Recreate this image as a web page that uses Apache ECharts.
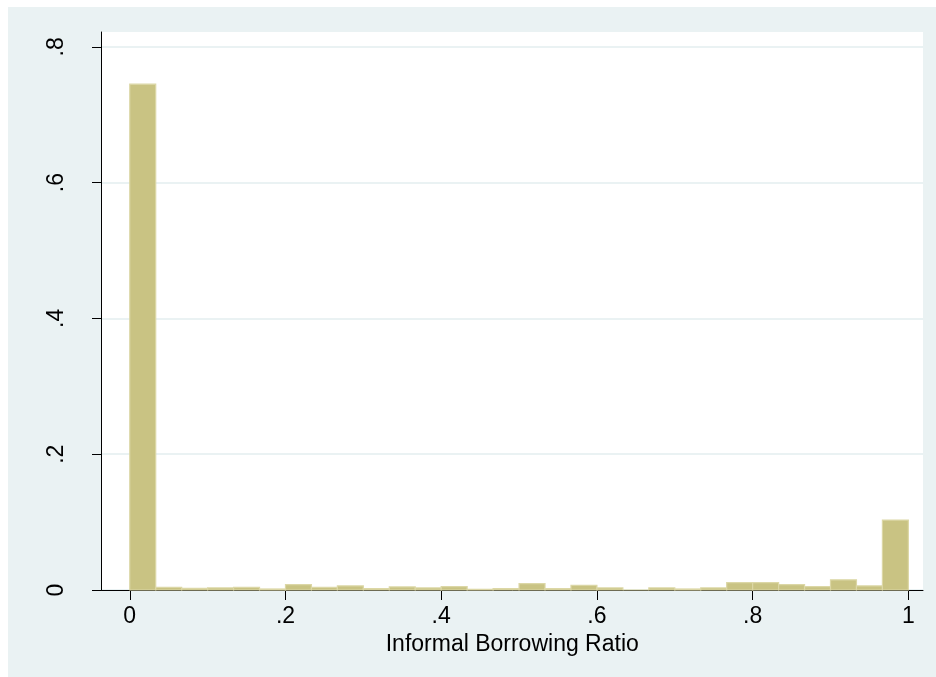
<!DOCTYPE html>
<html>
<head>
<meta charset="utf-8">
<title>Informal Borrowing Ratio</title>
<script src="https://cdn.jsdelivr.net/npm/echarts@6/dist/echarts.min.js"></script>
<style>
  html, body { margin: 0; padding: 0; background: #ffffff; }
  #chart { width: 936px; height: 677px; }
</style>
</head>
<body>
<div id="chart"></div>
<script>
// Histogram of the informal borrowing ratio: 30 equal-width bins on [0, 1],
// heights are the fraction of observations in each bin.
const binCount = 30;
const fractions = [
  0.745, 0.004, 0.0025, 0.003, 0.004, 0.0015, 0.008, 0.004, 0.006, 0.002,
  0.0045, 0.003, 0.005, 0.001, 0.002, 0.0093, 0.002, 0.007, 0.003, 0.0,
  0.003, 0.0015, 0.003, 0.011, 0.011, 0.008, 0.005, 0.015, 0.006, 0.103
];
const xTicks = [0, 0.2, 0.4, 0.6, 0.8, 1];
const xTickLabels = ['0', '.2', '.4', '.6', '.8', '1'];
const yTicks = [0, 0.2, 0.4, 0.6, 0.8];
const yTickLabels = ['0', '.2', '.4', '.6', '.8'];
const xTitle = 'Informal Borrowing Ratio';

// [bin start, bin end, fraction]
const binWidth = 1 / binCount;
const histData = fractions.map((f, i) => [i * binWidth, (i + 1) * binWidth, f]);

const labelFont = 'Liberation Sans, Arial, sans-serif';
const fontSize = 23;
const chart = echarts.init(document.getElementById('chart'), null, { renderer: 'canvas' });

chart.setOption({
  backgroundColor: '#ffffff',
  animation: false,
  graphic: [{
    type: 'rect',
    z: -10,
    silent: true,
    shape: { x: 8, y: 7, width: 928, height: 670 },
    style: { fill: '#EAF2F3' }
  }],
  grid: {
    left: 101.5,
    right: 13,
    top: 32,
    bottom: 87,
    show: true,
    backgroundColor: '#ffffff',
    borderWidth: 0
  },
  xAxis: {
    type: 'value',
    min: -0.0363,
    max: 1.0188,
    name: xTitle,
    nameLocation: 'middle',
    nameGap: 42,
    nameTextStyle: { fontFamily: labelFont, fontSize: fontSize, color: '#000' },
    axisLine: { show: true, onZero: false, lineStyle: { color: '#000', width: 1 } },
    axisTick: { show: true, length: 10, customValues: xTicks, lineStyle: { color: '#000', width: 1 } },
    axisLabel: {
      customValues: xTicks,
      margin: 15,
      fontFamily: labelFont,
      fontSize: fontSize,
      color: '#000',
      formatter: v => xTickLabels[xTicks.findIndex(t => Math.abs(t - v) < 1e-9)] ?? ''
    },
    splitLine: { show: false }
  },
  yAxis: {
    type: 'value',
    min: 0,
    max: 0.8218,
    axisLine: { show: true, onZero: false, lineStyle: { color: '#000', width: 1 } },
    axisTick: { show: true, length: 9.5, customValues: yTicks, lineStyle: { color: '#000', width: 1 } },
    axisLabel: {
      customValues: yTicks,
      rotate: 90,
      margin: 33,
      fontFamily: labelFont,
      fontSize: fontSize,
      color: '#000',
      formatter: v => yTickLabels[yTicks.findIndex(t => Math.abs(t - v) < 1e-9)] ?? ''
    },
    splitLine: { show: true, lineStyle: { color: '#EAF2F3', width: 2 } }
  },
  series: [{
    type: 'custom',
    data: histData,
    encode: { x: [0, 1], y: 2 },
    renderItem: function (params, api) {
      const p0 = api.coord([api.value(0), 0]);
      const p1 = api.coord([api.value(1), api.value(2)]);
      return {
        type: 'rect',
        shape: { x: p0[0], y: p1[1], width: p1[0] - p0[0], height: p0[1] - p1[1] },
        style: { fill: '#C9C383', stroke: '#DCD7A6', lineWidth: 1.2 }
      };
    }
  }]
});
</script>
</body>
</html>
